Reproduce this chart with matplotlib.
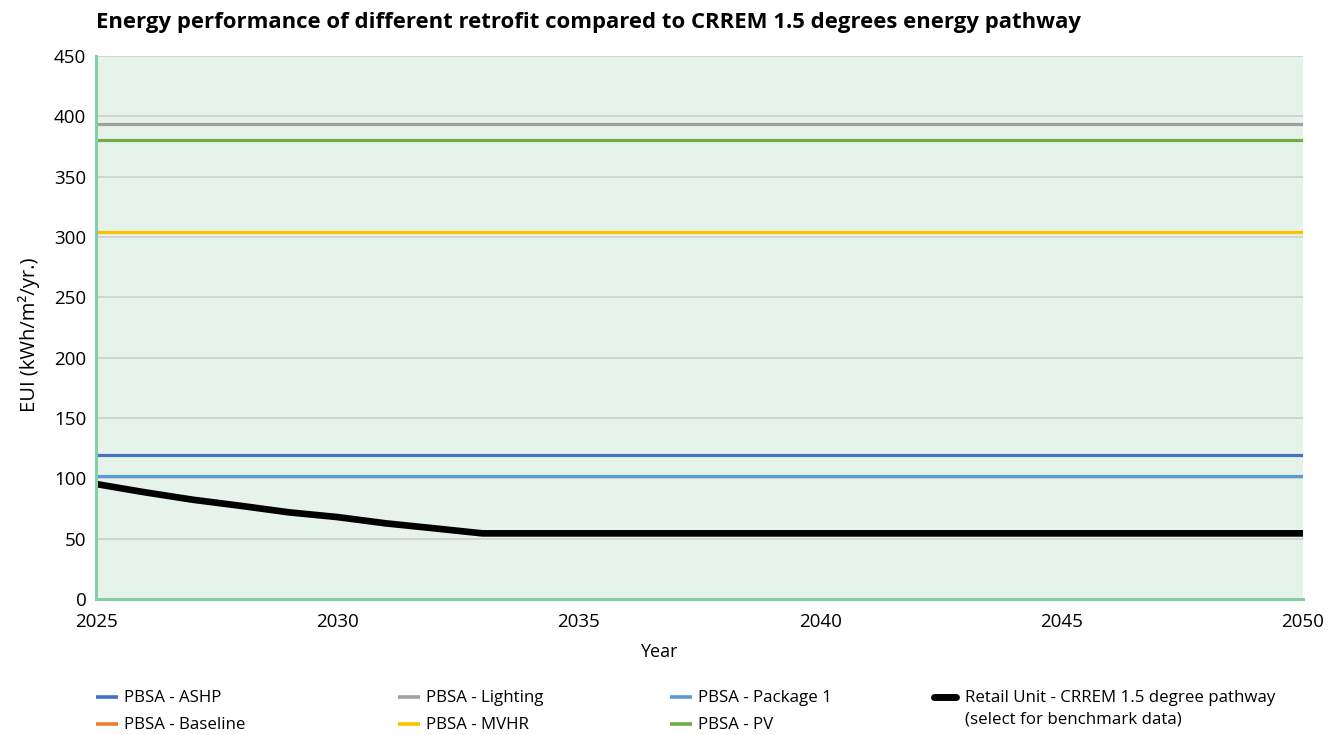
import matplotlib
matplotlib.use("Agg")
import matplotlib.pyplot as plt
from matplotlib.lines import Line2D

plt.rcParams['font.family'] = ['Open Sans', 'DejaVu Sans']

# Data
years = list(range(2025, 2051))
ashp = [119.3] * len(years)
baseline = [520.0] * len(years)
lighting = [393.6] * len(years)
mvhr = [303.9] * len(years)
package1 = [101.9] * len(years)
pv = [380.4] * len(years)
crrem = [95.3, 88.5, 82.3, 77.2, 71.8, 67.9, 62.7, 58.6, 54.4,
         54.4, 54.4, 54.4, 54.4, 54.4, 54.4, 54.4, 54.4, 54.4,
         54.4, 54.4, 54.4, 54.4, 54.4, 54.4, 54.4, 54.4]

series_names = ["PBSA - ASHP", "PBSA - Baseline", "PBSA - Lighting", "PBSA - MVHR",
                "PBSA - Package 1", "PBSA - PV",
                "Retail Unit - CRREM 1.5 degree pathway\n(select for benchmark data)"]
series_values = [ashp, baseline, lighting, mvhr, package1, pv, crrem]
series_colors = ["#4472c4", "#ed7d31", "#a0a0a0", "#ffc000", "#5b9bd5", "#70ad47", "#000000"]
series_widths = [2.3, 2.3, 2.3, 2.3, 2.3, 2.3, 4.8]

y_ticks = list(range(0, 451, 50))
x_ticks = list(range(2025, 2051, 5))

W, H = 1331, 735
fig = plt.figure(figsize=(W / 100, H / 100), dpi=100)
ax = fig.add_axes([96 / W, 1 - 599 / H, 1207 / W, 543 / H])
ax.set_facecolor("#e6f3ea")

for name, vals, col, lw in zip(series_names, series_values, series_colors, series_widths):
    ax.plot(years, vals, color=col, lw=lw, label=name,
            solid_capstyle="butt", zorder=3 if col != "#000000" else 4)

ax.set_xlim(2025, 2050)
ax.set_ylim(0, 450)
ax.set_yticks(y_ticks)
ax.set_xticks(x_ticks)
ax.tick_params(axis="both", length=0, labelsize=13.5, colors="#000000")
ax.tick_params(axis="x", pad=10)
ax.tick_params(axis="y", pad=7)
ax.grid(axis="y", color="#cfd3d1", lw=1.3, zorder=1)
ax.set_axisbelow(True)

for s in ["top", "right"]:
    ax.spines[s].set_visible(False)
for s in ["left", "bottom"]:
    ax.spines[s].set_color("#86cca5")
    ax.spines[s].set_linewidth(2.2)
    ax.spines[s].set_zorder(5)

ax.set_xlabel("Year", fontsize=13)
ax.xaxis.set_label_coords((659 - 96) / 1207, -(652 - 599) / 543)
ax.xaxis.label.set_va("center")
ax.set_ylabel("EUI (kWh/m\u00b2/yr.)", fontsize=14.5)
ax.yaxis.set_label_coords(-(96 - 29) / 1207, (599 - 335) / 543)
ax.yaxis.label.set_va("center")

fig.text(96 / W, 1 - 28 / H,
         "Energy performance of different retrofit compared to CRREM 1.5 degrees energy pathway",
         fontsize=15.9, fontweight="bold", ha="left", va="baseline")

# Legend: four columns laid out under the axes
col_x = [96, 96, 398, 398, 670, 670, 934]
row_y = [697, 724, 697, 724, 697, 724, 697]
for name, col, x0, y0 in zip(series_names, series_colors, col_x, row_y):
    is_black = col == "#000000"
    hl = 22
    fig.add_artist(Line2D([(x0) / W, (x0 + hl) / W], [1 - y0 / H, 1 - y0 / H],
                          color=col, lw=5.0 if is_black else 2.6,
                          solid_capstyle="round" if is_black else "butt",
                          transform=fig.transFigure))
    tx = x0 + hl + (9 if is_black else 6)
    fig.text(tx / W, 1 - (y0 - 7) / H, name, fontsize=12.2, ha="left", va="top",
             linespacing=1.45)

fig.savefig("out.png", dpi=100)
